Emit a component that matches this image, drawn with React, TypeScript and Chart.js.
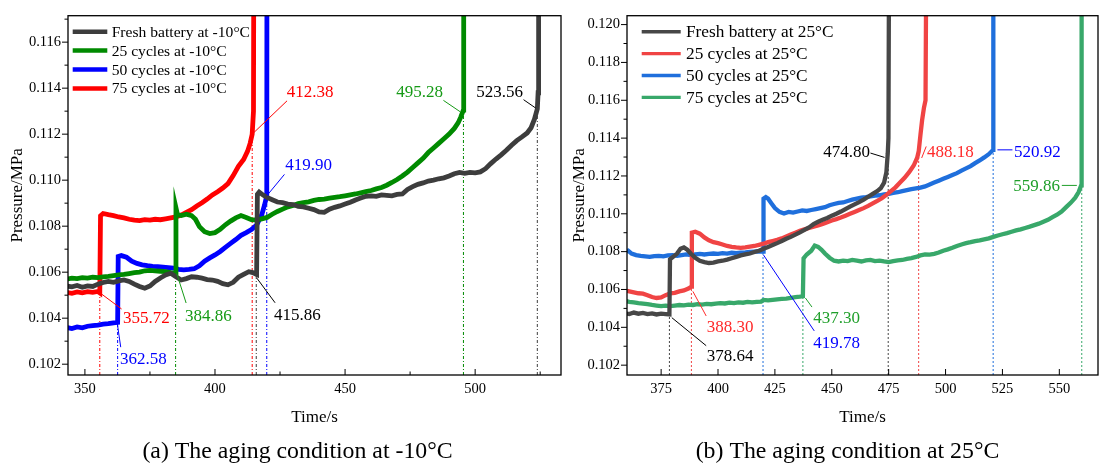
import { useEffect, useRef } from "react";
import { Chart, registerables } from "chart.js";

Chart.register(...registerables);

type Pt = [number, number];

const FONT = "'Liberation Serif', 'Times New Roman', serif";

// ================= (a) aging at -10°C =================
const leftNames = ["Fresh battery at -10°C", "25 cycles at -10°C", "50 cycles at -10°C", "75 cycles at -10°C"];
const leftColors = ["#3d3d3d", "#008a00", "#0000ff", "#ff0000"];

const leftFresh: Pt[] = [
  [343, 0.1054], [345, 0.10536], [347, 0.10542], [349, 0.10534], [351, 0.1054], [353, 0.10538], [355, 0.10548],
  [357, 0.10555], [359, 0.1056], [361, 0.10556], [363, 0.10562], [365, 0.10566], [367, 0.1056], [369, 0.10548],
  [371, 0.10538], [373, 0.1053], [375, 0.1054], [377, 0.1056], [379, 0.10575], [381, 0.10588], [383, 0.10595],
  [385, 0.1058], [387, 0.10566], [389, 0.10572], [391, 0.1058], [393, 0.10578], [395, 0.10574], [397, 0.10568],
  [399, 0.10566], [401, 0.1056], [403, 0.1055], [405, 0.10545], [407, 0.10556], [409, 0.10578], [411, 0.1059],
  [413, 0.10602], [414.5, 0.10598], [416.0, 0.1059], [416.3, 0.10938], [417, 0.10948], [418.5, 0.10935],
  [420, 0.10925], [422, 0.10915], [424, 0.10905], [426, 0.10902], [428, 0.10896], [430, 0.10894], [432, 0.10886],
  [434, 0.10884], [436, 0.10878], [438, 0.10872], [440, 0.10862], [442, 0.1086], [444, 0.10874], [446, 0.10882],
  [448, 0.10888], [450, 0.10896], [452, 0.10904], [454, 0.10914], [456, 0.10922], [458, 0.1093], [460, 0.10932],
  [462, 0.1093], [464, 0.10936], [466, 0.10934], [468, 0.10932], [470, 0.10938], [472, 0.1094], [474, 0.1096],
  [476, 0.10972], [478, 0.10982], [480, 0.10988], [482, 0.10996], [484, 0.11], [486, 0.11006], [488, 0.1101],
  [490, 0.11018], [492, 0.11028], [494, 0.11034], [496, 0.1103], [498, 0.11034], [500, 0.11032], [502, 0.11036],
  [504, 0.1105], [506, 0.11072], [508, 0.11092], [510, 0.1111], [512, 0.1113], [514, 0.11152], [516, 0.11172],
  [518, 0.11188], [520, 0.11205], [521.5, 0.11228], [522.8, 0.11265], [523.9, 0.1131], [524.2, 0.1138], [524.4, 0.125],
];

const left25: Pt[] = [
  [343, 0.1057], [345, 0.10574], [347, 0.10572], [349, 0.10576], [351, 0.10574], [353, 0.10578], [355, 0.10576],
  [357, 0.1058], [359, 0.10582], [361, 0.10585], [363, 0.10588], [365, 0.1059], [367, 0.10594], [369, 0.10598],
  [371, 0.106], [373, 0.10606], [375, 0.10608], [377, 0.10606], [379, 0.10604], [381, 0.10602], [383, 0.10598],
  [384.86, 0.10595], [385.0, 0.1088], [385.6, 0.1085], [387, 0.10846], [389, 0.10852], [391, 0.10846],
  [392.5, 0.1083], [394, 0.10798], [396, 0.10776], [398, 0.10768], [400, 0.10772], [402, 0.10786], [404, 0.10806],
  [406, 0.10822], [408, 0.10836], [410, 0.10846], [412, 0.10838], [414, 0.10828], [416, 0.10826], [418, 0.10832],
  [420, 0.10838], [422, 0.10852], [424, 0.10864], [426, 0.10874], [428, 0.10884], [430, 0.1089], [432, 0.10898],
  [434, 0.10902], [436, 0.10906], [438, 0.10912], [440, 0.10916], [442, 0.10918], [444, 0.10922], [446, 0.10925],
  [448, 0.10928], [450, 0.10932], [452, 0.10936], [454, 0.1094], [456, 0.10945], [458, 0.1095], [460, 0.10955],
  [462, 0.10962], [464, 0.10968], [466, 0.10978], [468, 0.1099], [470, 0.11003], [472, 0.11018], [474, 0.11035],
  [476, 0.11055], [478, 0.11075], [480, 0.11095], [482, 0.1112], [484, 0.1114], [486, 0.1116], [488, 0.1118],
  [490, 0.112], [492, 0.11225], [493.5, 0.1125], [494.5, 0.11275], [495.5, 0.11305], [495.6, 0.125],
];

const left50: Pt[] = [
  [343, 0.1036], [345, 0.10355], [347, 0.10362], [349, 0.10358], [351, 0.10365], [353, 0.10368], [355, 0.1037],
  [357, 0.10374], [359, 0.10376], [361, 0.1038], [362.58, 0.10382], [362.8, 0.10668], [364, 0.10672],
  [366, 0.10665], [368, 0.10648], [370, 0.10638], [372, 0.10632], [374, 0.10628], [376, 0.10625], [378, 0.10624],
  [380, 0.10622], [382, 0.1062], [384, 0.10618], [386, 0.10612], [388, 0.1061], [390, 0.10612], [392, 0.10615],
  [394, 0.10628], [396, 0.10648], [398, 0.10662], [400, 0.10675], [402, 0.1069], [404, 0.10708], [406, 0.10725],
  [408, 0.10742], [410, 0.1076], [412, 0.10772], [414, 0.10785], [416, 0.10805], [418, 0.1085], [419, 0.1089],
  [419.9, 0.10932], [420.0, 0.125],
];

const left75: Pt[] = [
  [343, 0.10512], [345, 0.10508], [347, 0.10514], [349, 0.1051], [351, 0.10515], [353, 0.10512], [355, 0.10516],
  [355.72, 0.1051], [356.0, 0.10845], [357, 0.10855], [359, 0.1085], [361, 0.10846], [363, 0.1084], [365, 0.10836],
  [367, 0.1083], [369, 0.10826], [371, 0.10824], [373, 0.10828], [375, 0.10826], [377, 0.1083], [379, 0.10828],
  [381, 0.10832], [383, 0.10836], [385, 0.1084], [387, 0.10848], [389, 0.1086], [391, 0.10872], [393, 0.10888],
  [395, 0.10902], [397, 0.10918], [399, 0.10936], [401, 0.1095], [403, 0.10966], [405, 0.10985], [407, 0.1102],
  [409, 0.1106], [411, 0.1109], [412.5, 0.11125], [413.5, 0.1116], [414.3, 0.112], [414.8, 0.113], [415.0, 0.125],
];

const leftXTicks = [350, 400, 450, 500];
const leftXMinor = [375, 425, 475, 525];
const leftYTicks = [0.102, 0.104, 0.106, 0.108, 0.11, 0.112, 0.114, 0.116];
const leftYMinor = [0.103, 0.105, 0.107, 0.109, 0.111, 0.113, 0.115, 0.117];

// marked events: time, pressure reached, series index
const leftEventTimes = [355.72, 362.58, 384.86, 414.3, 415.86, 419.9, 495.5, 523.9];
const leftEventLevels = [0.1051, 0.10382, 0.10595, 0.112, 0.1059, 0.10932, 0.11305, 0.1131];
const leftEventSeries = [3, 2, 1, 3, 0, 2, 1, 0];
const leftNoteTexts = ["355.72", "362.58", "384.86", "412.38", "415.86", "419.90", "495.28", "523.56"];
const leftNoteColors = ["#ff0000", "#0000ff", "#169a16", "#ff0000", "#000000", "#0000ff", "#169a16", "#000000"];
// label anchor and leader line, in data coordinates
const leftNoteAt: Pt[] = [[364.65, 0.10401], [363.5, 0.10225], [388.5, 0.1041], [427.6, 0.11384], [422.7, 0.10418], [427.0, 0.11067], [469.7, 0.11387], [500.4, 0.11387]];
const leftNoteFrom: Pt[] = [[356.4, 0.10505], [362.46, 0.10376], [385.3, 0.10594], [414.3, 0.112], [416.1, 0.10574], [419.9, 0.10932], [487.8, 0.11347], [518.6, 0.1135]];
const leftNoteTo: Pt[] = [[364.1, 0.1044], [363.77, 0.10274], [388.9, 0.10466], [427.7, 0.11345], [423.1, 0.10467], [426.7, 0.11025], [494.3, 0.11297], [523.2, 0.11314]];

// ================= (b) aging at 25°C =================
const rightNames = ["Fresh battery at 25°C", "25 cycles at 25°C", "50 cycles at 25°C", "75 cycles at 25°C"];
const rightColors = ["#474747", "#f04444", "#1f6fdc", "#38a86a"];

const rightFresh: Pt[] = [
  [359, 0.10475], [361, 0.1047], [363, 0.10478], [365, 0.10472], [367, 0.10476], [369, 0.1047], [371, 0.10474],
  [373, 0.10468], [375, 0.10472], [377, 0.1047], [378.64, 0.10468], [378.9, 0.1076], [380, 0.1077], [382, 0.1079],
  [383.5, 0.10815], [385, 0.10822], [386.5, 0.1081], [388, 0.1079], [390, 0.10768], [392, 0.10752], [394, 0.10745],
  [396, 0.1074], [398, 0.10742], [400, 0.10748], [402, 0.10752], [404, 0.10758], [406, 0.10765], [408, 0.10772],
  [410, 0.1078], [412, 0.10785], [414, 0.1079], [416, 0.10798], [418, 0.10805], [420, 0.10815], [422, 0.10825],
  [424, 0.10835], [426, 0.10845], [428, 0.10856], [430, 0.10868], [432, 0.10878], [434, 0.1089], [436, 0.10902],
  [438, 0.10915], [440, 0.10928], [442, 0.10945], [444, 0.10958], [446, 0.10968], [448, 0.10978], [450, 0.1099],
  [452, 0.11], [454, 0.11012], [456, 0.11025], [458, 0.11038], [460, 0.1105], [462, 0.11062], [464, 0.11075],
  [466, 0.1109], [468, 0.11105], [470, 0.1112], [471.5, 0.11135], [473, 0.11165], [474, 0.1122], [474.6, 0.1132],
  [474.9, 0.114], [475.2, 0.125],
];

const right25: Pt[] = [
  [359, 0.10595], [361, 0.1059], [363, 0.10585], [365, 0.1058], [367, 0.10578], [369, 0.1057], [371, 0.1056],
  [373, 0.10555], [375, 0.10558], [377, 0.1057], [379, 0.1058], [381, 0.10582], [383, 0.1059], [385, 0.10595],
  [387, 0.10605], [388.3, 0.10615], [388.5, 0.109], [390, 0.10905], [392, 0.10895], [394, 0.10875], [396, 0.1086],
  [398, 0.1085], [400, 0.10845], [402, 0.10838], [404, 0.1083], [406, 0.10825], [408, 0.10822], [410, 0.1082],
  [412, 0.10822], [414, 0.10826], [416, 0.1083], [418, 0.10836], [420, 0.10842], [422, 0.1085], [424, 0.10856],
  [426, 0.10862], [428, 0.1087], [430, 0.1088], [432, 0.1089], [434, 0.109], [436, 0.1091], [438, 0.10918],
  [440, 0.10925], [442, 0.10932], [444, 0.10938], [446, 0.10946], [448, 0.10955], [450, 0.10965], [452, 0.10972],
  [454, 0.1098], [456, 0.1099], [458, 0.11], [460, 0.1101], [462, 0.1102], [464, 0.1103], [466, 0.11042],
  [468, 0.11055], [470, 0.11068], [472, 0.11082], [474, 0.111], [476, 0.1112], [478, 0.1114], [480, 0.11165],
  [482, 0.1119], [484, 0.1122], [486, 0.11255], [487.5, 0.11295], [488.2, 0.1133], [489, 0.1142], [489.7, 0.11495],
  [490.5, 0.1156], [491.2, 0.116], [491.6, 0.125],
];

const right50: Pt[] = [
  [359, 0.108], [360.5, 0.10805], [362, 0.1079], [364, 0.10782], [366, 0.10778], [368, 0.10775], [370, 0.10772],
  [372, 0.10776], [374, 0.10778], [376, 0.10775], [378, 0.1078], [380, 0.10782], [382, 0.10778], [384, 0.10782],
  [386, 0.10785], [388, 0.10782], [390, 0.10786], [392, 0.10788], [394, 0.10785], [396, 0.10788], [398, 0.1079],
  [400, 0.10788], [402, 0.10792], [404, 0.1079], [406, 0.10794], [408, 0.10792], [410, 0.10795], [412, 0.10796],
  [414, 0.10798], [416, 0.108], [418, 0.10802], [419.78, 0.108], [420.0, 0.1108], [421, 0.11088], [422, 0.1108],
  [423.5, 0.11055], [425, 0.1103], [427, 0.1101], [429, 0.11002], [431, 0.1101], [433, 0.11006], [435, 0.11012],
  [437, 0.11018], [439, 0.11015], [441, 0.1102], [443, 0.11025], [445, 0.1103], [447, 0.11035], [449, 0.11045],
  [451, 0.11052], [453, 0.11058], [455, 0.1106], [457, 0.11068], [459, 0.11075], [461, 0.1108], [463, 0.11085],
  [465, 0.11088], [467, 0.11092], [469, 0.11096], [471, 0.11098], [473, 0.11102], [475, 0.11105], [477, 0.1111],
  [479, 0.11114], [481, 0.1112], [483, 0.11125], [485, 0.1113], [487, 0.11134], [489, 0.11138], [491, 0.11145],
  [493, 0.11155], [495, 0.11165], [497, 0.11175], [499, 0.11185], [501, 0.11195], [503, 0.11205], [505, 0.11215],
  [507, 0.11228], [509, 0.1124], [511, 0.11252], [513, 0.11268], [515, 0.11282], [517, 0.11298], [519, 0.11315],
  [520.92, 0.11338], [521.0, 0.125],
];

const right75: Pt[] = [
  [359, 0.1054], [361, 0.10535], [363, 0.10532], [365, 0.10528], [367, 0.10525], [369, 0.10522], [371, 0.10518],
  [373, 0.10515], [375, 0.10512], [377, 0.10515], [379, 0.10512], [381, 0.10515], [383, 0.10518], [385, 0.10516],
  [387, 0.1052], [389, 0.10518], [391, 0.10522], [393, 0.1052], [395, 0.10524], [397, 0.10522], [399, 0.10525],
  [401, 0.10528], [403, 0.10526], [405, 0.1053], [407, 0.10528], [409, 0.10532], [411, 0.1053], [413, 0.10534],
  [415, 0.10532], [417, 0.10535], [419, 0.10536], [420, 0.10545], [422, 0.10542], [424, 0.10545], [426, 0.10548],
  [428, 0.1055], [430, 0.10552], [432, 0.10556], [434, 0.1056], [436, 0.10562], [437.3, 0.10565], [437.6, 0.10765],
  [439, 0.10785], [441, 0.10805], [442.5, 0.10832], [444, 0.10825], [445.5, 0.1081], [447, 0.1079], [449, 0.10768],
  [451, 0.10752], [453, 0.10748], [455, 0.10752], [457, 0.1075], [459, 0.10756], [461, 0.10752], [463, 0.10748],
  [465, 0.10754], [467, 0.10756], [469, 0.1075], [471, 0.10752], [473, 0.10748], [475, 0.10745], [477, 0.1075],
  [479, 0.10754], [481, 0.10756], [483, 0.10762], [485, 0.10766], [487, 0.10772], [489, 0.1078], [491, 0.10785],
  [493, 0.10784], [495, 0.10788], [497, 0.10795], [499, 0.10805], [501, 0.10812], [503, 0.1082], [505, 0.1083],
  [507, 0.10838], [509, 0.10845], [511, 0.1085], [513, 0.10856], [515, 0.1086], [517, 0.10865], [519, 0.1087],
  [521, 0.10878], [523, 0.10885], [525, 0.10892], [527, 0.10898], [529, 0.10905], [531, 0.10912], [533, 0.10918],
  [535, 0.10925], [537, 0.10932], [539, 0.1094], [541, 0.10948], [543, 0.10958], [545, 0.10968], [547, 0.10982],
  [549, 0.10995], [551, 0.11012], [553, 0.11035], [555, 0.11058], [557, 0.11085], [558.5, 0.11115], [559.6, 0.1115],
  [559.8, 0.125],
];

const rightXTicks = [375, 400, 425, 450, 475, 500, 525, 550];
const rightXMinor: number[] = [];
const rightYTicks = [0.102, 0.104, 0.106, 0.108, 0.11, 0.112, 0.114, 0.116, 0.118, 0.12];
const rightYMinor = [0.103, 0.105, 0.107, 0.109, 0.111, 0.113, 0.115, 0.117, 0.119];

const rightEventTimes = [378.64, 388.3, 419.78, 437.3, 474.8, 488.18, 520.92, 559.86];
const rightEventLevels = [0.10468, 0.10615, 0.108, 0.10565, 0.1131, 0.1133, 0.11338, 0.1115];
const rightEventSeries = [0, 1, 2, 3, 0, 1, 2, 3];
const rightNoteTexts = ["378.64", "388.30", "419.78", "437.30", "474.80", "488.18", "520.92", "559.86"];
const rightNoteColors = ["#000000", "#ff2a2a", "#0000ff", "#1f9f2a", "#000000", "#ff2a2a", "#0000ff", "#1f9f2a"];
const rightNoteAt: Pt[] = [[395.1, 0.10251], [395.1, 0.10402], [441.9, 0.1032], [441.9, 0.10454], [446.2, 0.1133], [491.9, 0.1133], [530.1, 0.1133], [529.8, 0.1115]];
const rightNoteFrom: Pt[] = [[379.7, 0.10451], [388.95, 0.1059], [420.0, 0.10782], [438.4, 0.10555], [467.0, 0.11321], [489.5, 0.11295], [522.8, 0.11338], [551.1, 0.1115]];
const rightNoteTo: Pt[] = [[394.8, 0.10303], [394.8, 0.1046], [442.3, 0.10381], [441.3, 0.10507], [473.2, 0.11298], [491.5, 0.11356], [529.4, 0.11338], [557.7, 0.1115]];

// ================= panel builder =================
type Panel = {
  names: string[]; colors: string[]; series: Pt[][];
  xMin: number; xMax: number; yMin: number; yMax: number;
  xTicks: number[]; xMinor: number[]; yTicks: number[]; yMinor: number[];
  evT: number[]; evP: number[]; evS: number[];
  noteTexts: string[]; noteColors: string[]; noteAt: Pt[]; noteFrom: Pt[]; noteTo: Pt[];
  caption: string; captionX: number;
  lineWidth: number; yAxisWidth: number; yTitlePad: number; padRight: number;
  legend: { x0: number; x1: number; tx: number; y0: number; dy: number; font: number; lw: number };
  dash: number[];
};

function decoPlugin(p: Panel) {
  return {
    id: "deco",
    beforeDatasetsDraw(chart: any) {
      const { ctx, chartArea: a } = chart;
      const xs = chart.scales.x, ys = chart.scales.y;
      ctx.save();
      ctx.beginPath();
      ctx.rect(a.left, a.top, a.right - a.left, a.bottom - a.top);
      ctx.clip();
      ctx.lineWidth = 1;
      ctx.setLineDash(p.dash);
      p.evT.forEach((t, i) => {
        const x = xs.getPixelForValue(t);
        ctx.strokeStyle = p.colors[p.evS[i]];
        ctx.beginPath();
        ctx.moveTo(x, a.bottom);
        ctx.lineTo(x, ys.getPixelForValue(p.evP[i]));
        ctx.stroke();
      });
      ctx.restore();
    },
    afterDraw(chart: any) {
      const { ctx, chartArea: a } = chart;
      const xs = chart.scales.x, ys = chart.scales.y;
      ctx.save();
      // frame
      ctx.strokeStyle = "#000";
      ctx.lineWidth = 1.3;
      ctx.strokeRect(a.left, a.top, a.right - a.left, a.bottom - a.top);
      // tick marks
      ctx.lineWidth = 1;
      ctx.beginPath();
      p.xTicks.forEach((v) => { const x = xs.getPixelForValue(v); ctx.moveTo(x, a.bottom); ctx.lineTo(x, a.bottom - 6); });
      p.xMinor.forEach((v) => { const x = xs.getPixelForValue(v); ctx.moveTo(x, a.bottom); ctx.lineTo(x, a.bottom - 3.5); });
      p.yTicks.forEach((v) => { const y = ys.getPixelForValue(v); ctx.moveTo(a.left, y); ctx.lineTo(a.left - 6, y); });
      p.yMinor.forEach((v) => { const y = ys.getPixelForValue(v); if (y >= a.top) { ctx.moveTo(a.left, y); ctx.lineTo(a.left - 3.5, y); } });
      ctx.stroke();
      // legend
      const L = p.legend;
      ctx.font = `${L.font}px ${FONT}`;
      ctx.textAlign = "left";
      ctx.textBaseline = "middle";
      p.names.forEach((n, i) => {
        const y = L.y0 + L.dy * i;
        ctx.strokeStyle = p.colors[i];
        ctx.lineWidth = L.lw;
        ctx.beginPath();
        ctx.moveTo(L.x0, y);
        ctx.lineTo(L.x1, y);
        ctx.stroke();
        ctx.fillStyle = "#000";
        ctx.fillText(n, L.tx, y + 1);
      });
      // annotations
      ctx.font = `17px ${FONT}`;
      p.noteTexts.forEach((txt, i) => {
        ctx.strokeStyle = p.noteColors[i];
        ctx.fillStyle = p.noteColors[i];
        ctx.lineWidth = 1;
        ctx.beginPath();
        ctx.moveTo(xs.getPixelForValue(p.noteFrom[i][0]), ys.getPixelForValue(p.noteFrom[i][1]));
        ctx.lineTo(xs.getPixelForValue(p.noteTo[i][0]), ys.getPixelForValue(p.noteTo[i][1]));
        ctx.stroke();
        ctx.fillText(txt, xs.getPixelForValue(p.noteAt[i][0]), ys.getPixelForValue(p.noteAt[i][1]) + 1);
      });
      // caption
      ctx.fillStyle = "#000";
      ctx.font = `23.8px ${FONT}`;
      ctx.textAlign = "center";
      ctx.textBaseline = "alphabetic";
      ctx.fillText(p.caption, p.captionX, 458);
      ctx.restore();
    },
  };
}

function buildConfig(p: Panel): any {
  return {
    type: "line",
    data: {
      datasets: p.series.map((s, i) => ({
        label: p.names[i],
        data: s.map(([x, y]) => ({ x, y })),
        borderColor: p.colors[i],
        backgroundColor: p.colors[i],
        borderWidth: p.lineWidth,
        pointRadius: 0,
        tension: 0,
        fill: false,
        clip: 0,
      })),
    },
    options: {
      animation: false,
      responsive: false,
      devicePixelRatio: 1,
      events: [],
      layout: { padding: { top: 11, right: p.padRight, bottom: 35, left: 0 } },
      plugins: { legend: { display: false }, tooltip: { enabled: false }, title: { display: false } },
      scales: {
        x: {
          type: "linear",
          min: p.xMin,
          max: p.xMax,
          afterFit: (s: any) => { s.height = 55; },
          afterBuildTicks: (s: any) => { s.ticks = p.xTicks.map((v) => ({ value: v })); },
          ticks: { autoSkip: false, maxRotation: 0, padding: 5, color: "#000", font: { family: FONT, size: 14.5 }, callback: (v: any) => String(v) },
          grid: { display: false, drawTicks: false },
          border: { display: false },
          title: { display: true, text: "Time/s", color: "#000", font: { family: FONT, size: 17 }, padding: { top: 0, bottom: 2 } },
        },
        y: {
          type: "linear",
          min: p.yMin,
          max: p.yMax,
          afterFit: (s: any) => { s.width = p.yAxisWidth; },
          afterBuildTicks: (s: any) => { s.ticks = p.yTicks.map((v) => ({ value: v })); },
          ticks: { autoSkip: false, padding: 7, color: "#000", font: { family: FONT, size: 14.5 }, callback: (v: any) => Number(v).toFixed(3) },
          grid: { display: false, drawTicks: false },
          border: { display: false },
          title: { display: true, text: "Pressure/MPa", color: "#000", font: { family: FONT, size: 17 }, padding: { top: p.yTitlePad, bottom: 0 } },
        },
      },
    },
    plugins: [decoPlugin(p)],
  };
}

const leftPanel: Panel = {
  names: leftNames, colors: leftColors, series: [leftFresh, left25, left50, left75],
  xMin: 343.5, xMax: 533, yMin: 0.10153, yMax: 0.11715,
  xTicks: leftXTicks, xMinor: leftXMinor, yTicks: leftYTicks, yMinor: leftYMinor,
  evT: leftEventTimes, evP: leftEventLevels, evS: leftEventSeries,
  noteTexts: leftNoteTexts, noteColors: leftNoteColors, noteAt: leftNoteAt, noteFrom: leftNoteFrom, noteTo: leftNoteTo,
  caption: "(a) The aging condition at -10°C", captionX: 297.5,
  lineWidth: 4.8, yAxisWidth: 68, yTitlePad: 7, padRight: 1,
  legend: { x0: 72.7, x1: 107.3, tx: 111.7, y0: 31.7, dy: 18.9, font: 15.6, lw: 4.5 },
  dash: [3, 2, 1, 2],
};

const rightPanel: Panel = {
  names: rightNames, colors: rightColors, series: [rightFresh, right25, right50, right75],
  xMin: 360, xMax: 567, yMin: 0.10148, yMax: 0.12047,
  xTicks: rightXTicks, xMinor: rightXMinor, yTicks: rightYTicks, yMinor: rightYMinor,
  evT: rightEventTimes, evP: rightEventLevels, evS: rightEventSeries,
  noteTexts: rightNoteTexts, noteColors: rightNoteColors, noteAt: rightNoteAt, noteFrom: rightNoteFrom, noteTo: rightNoteTo,
  caption: "(b) The aging condition at 25°C", captionX: 285.5,
  lineWidth: 4.3, yAxisWidth: 65, yTitlePad: 7.5, padRight: 1,
  legend: { x0: 79.7, x1: 118.7, tx: 124, y0: 31.7, dy: 21.9, font: 17.3, lw: 3.4 },
  dash: [2, 2],
};

function ChartPanel({ panel, left, width }: { panel: Panel; left: number; width: number }) {
  const ref = useRef<HTMLCanvasElement>(null);
  useEffect(() => {
    const chart = new Chart(ref.current as HTMLCanvasElement, buildConfig(panel));
    return () => chart.destroy();
  }, [panel]);
  return (
    <div style={{ position: "absolute", left, top: 0, width, height: 465 }}>
      <canvas ref={ref} width={width} height={465} style={{ width, height: 465, display: "block" }} />
    </div>
  );
}

export default function App() {
  return (
    <div style={{ position: "fixed", left: 0, top: 0, width: 1099, height: 465, background: "#fff", overflow: "hidden" }}>
      <ChartPanel panel={leftPanel} left={0} width={562} />
      <ChartPanel panel={rightPanel} left={562} width={537} />
    </div>
  );
}
